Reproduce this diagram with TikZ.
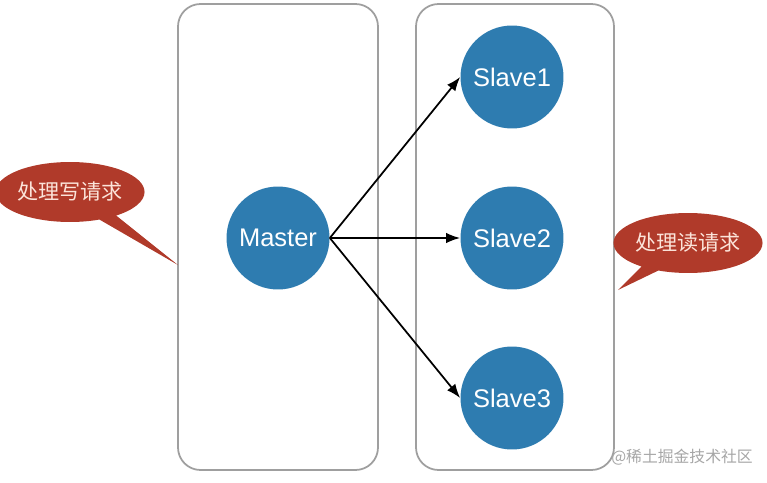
\documentclass[tikz,border=0pt]{standalone}
\usepackage{fontspec}
\setmainfont{Liberation Sans}
\newfontfamily\cjk{Noto Sans CJK SC}
\usetikzlibrary{arrows.meta,shapes.callouts}

\definecolor{nodeblue}{RGB}{46,124,176}
\definecolor{bubblered}{RGB}{176,58,42}
\definecolor{bubbletext}{RGB}{252,228,218}

\tikzset{
  group/.style={draw=gray!75,line width=1pt,rounded corners=0.45cm},
  server/.style={circle,fill=nodeblue,text=white,minimum size=2.06cm,inner sep=0pt,font=\fontsize{14.5}{16}\selectfont},
  bubble/.style={ellipse callout,fill=bubblered,text=bubbletext,minimum width=2.76cm,minimum height=1.2cm,inner sep=0pt,
    callout pointer width=0.65cm,font=\cjk\fontsize{12}{14}\selectfont},
  link/.style={-{Latex[length=8pt,width=6pt]},line width=1pt}
}

\begin{document}
\begin{tikzpicture}[x=0.02cm,y=-0.02cm]
  \useasboundingbox (0,0) rectangle (767,483);
  % two groups
  \draw[group] (178,4) rectangle (378,470);
  \draw[group] (416,4) rectangle (614,470);

  % servers
  \node[server] (master) at (278,238) {Master};
  \node[server] (slave1) at (512,77)  {Slave1};
  \node[server] (slave2) at (512,238) {Slave2};
  \node[server] (slave3) at (512,398) {Slave3};

  \foreach \s in {slave1,slave2,slave3}
    \draw[link] (master.east) -- (\s.west);

  % callouts
  \node[bubble,callout absolute pointer={(178,265)}] (writenote) at (70,192) {处理写请求};
  \node[bubble,callout absolute pointer={(618,290)}] (readnote) at (688,243) {处理读请求};

  \node[text=gray!70,font=\cjk\fontsize{9}{11}\selectfont] (mark) at (682,457) {@稀土掘金技术社区};
\end{tikzpicture}
\end{document}
